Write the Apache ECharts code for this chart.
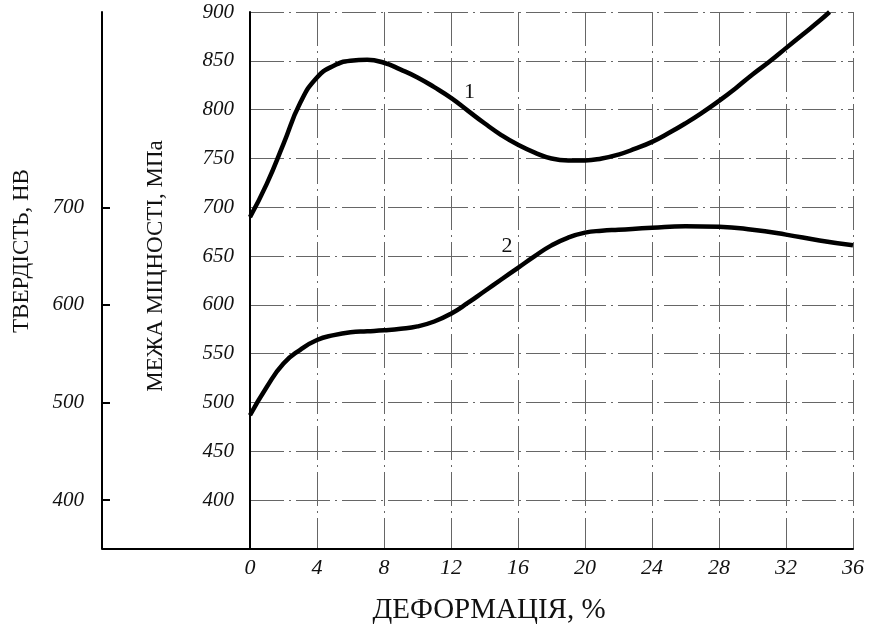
<!DOCTYPE html>
<html>
<head>
<meta charset="utf-8">
<script src="https://cdn.jsdelivr.net/npm/echarts@6/dist/echarts.min.js"></script>
<style>
  html, body { margin: 0; padding: 0; background: #fff; }
  #chart { width: 872px; height: 626px; }
</style>
</head>
<body>
<div id="chart"></div>
<script>
// дані (деформація, % -> межа міцності, МПа)
var deformX1 = [0, 1, 2, 3, 4, 5, 6, 7, 8, 9, 10, 11, 12, 13, 14, 15, 16, 17, 18, 19, 20, 21, 22, 23, 24, 25, 26, 27, 28, 29, 30, 31, 32, 33, 34, 34.6];
var strength1 = [690, 724, 765, 807, 833, 845, 850, 851, 848, 841, 833, 823, 812, 799, 786, 774, 764, 756, 750, 748, 748, 750, 754, 760, 767, 776, 786, 797, 809, 822, 836, 849, 863, 877, 891, 900];
var deformX2 = [0, 1, 2, 3, 4, 5, 6, 7, 8, 9, 10, 11, 12, 13, 14, 15, 16, 17, 18, 19, 20, 21, 22, 24, 26, 28, 30, 32, 34, 36];
var strength2 = [487, 516, 540, 554, 564, 569, 572, 573, 574, 575.5, 578, 583, 591, 602, 614, 626, 638, 650, 661, 669, 674, 676, 677, 679, 680.5, 680, 677, 672, 666, 661];
var hardnessTicks = [400, 500, 600, 700];
var curveLabels = [{ name: '1', x: 13.1, y: 818 }, { name: '2', x: 15.35, y: 660 }];

function pairs(xs, ys) {
    return xs.map(function (x, i) { return [x, ys[i]]; });
}

var serif = 'Liberation Serif';
var gridLine = { show: true, lineStyle: { color: '#666', width: 1, type: [34, 5, 2, 5] } };

function curveMark(lbl) {
    return {
        symbol: 'circle',
        symbolSize: 1,
        itemStyle: { color: 'rgba(0,0,0,0)' },
        label: { show: true, position: 'inside', formatter: '{b}', fontFamily: serif, fontSize: 22, color: '#111' },
        data: [{ name: lbl.name, coord: [lbl.x, lbl.y] }]
    };
}

var myChart = echarts.init(document.getElementById('chart'));
myChart.setOption({
    backgroundColor: '#fff',
    animation: false,
    grid: { left: 250, right: 19, top: 12, bottom: 77, containLabel: false },
    xAxis: {
        type: 'value',
        min: 0,
        max: 36,
        interval: 4,
        axisLine: { show: true, lineStyle: { color: '#000', width: 2 } },
        axisTick: { show: false },
        axisLabel: { fontFamily: serif, fontStyle: 'italic', fontSize: 22, color: '#111', margin: 8 },
        splitLine: gridLine
    },
    yAxis: [{
        type: 'value',
        position: 'left',
        min: 350,
        max: 900,
        interval: 50,
        axisLine: { show: true, lineStyle: { color: '#000', width: 2 } },
        axisTick: { show: false },
        axisLabel: {
            fontFamily: serif, fontStyle: 'italic', fontSize: 21, color: '#111', margin: 16,
            formatter: function (v) { return v === 350 ? '' : v; }
        },
        splitLine: gridLine
    }, {
        type: 'value',
        position: 'left',
        offset: 148,
        min: 350,
        max: 900,
        interval: 50,
        axisLine: { show: true, lineStyle: { color: '#000', width: 2 } },
        axisTick: { show: true, inside: true, length: 8, customValues: hardnessTicks, lineStyle: { color: '#000', width: 2 } },
        axisLabel: {
            fontFamily: serif, fontStyle: 'italic', fontSize: 21, color: '#111', margin: 18,
            customValues: hardnessTicks
        },
        splitLine: { show: false }
    }],
    series: [{
        name: '1',
        type: 'line',
        yAxisIndex: 0,
        smooth: 0.5,
        showSymbol: false,
        data: pairs(deformX1, strength1),
        lineStyle: { color: '#000', width: 4.5 },
        markPoint: curveMark(curveLabels[0])
    }, {
        name: '2',
        type: 'line',
        yAxisIndex: 0,
        smooth: 0.5,
        showSymbol: false,
        data: pairs(deformX2, strength2),
        lineStyle: { color: '#000', width: 4.5 },
        markPoint: curveMark(curveLabels[1])
    }],
    graphic: [{
        type: 'line',
        shape: { x1: 102, y1: 549, x2: 251, y2: 549 },
        style: { stroke: '#000', lineWidth: 2 }
    }, {
        type: 'text',
        x: 489,
        y: 610,
        style: { text: 'ДЕФОРМАЦІЯ, %', font: '29px "Liberation Serif"', fill: '#111', align: 'center', verticalAlign: 'middle' }
    }, {
        type: 'text',
        x: 22,
        y: 251,
        rotation: Math.PI / 2,
        style: { text: 'ТВЕРДІСТЬ, НВ', font: '23px "Liberation Serif"', fill: '#111', align: 'center', verticalAlign: 'middle' }
    }, {
        type: 'text',
        x: 156,
        y: 266,
        rotation: Math.PI / 2,
        style: { text: 'МЕЖА МІЦНОСТІ, МПа', font: '23px "Liberation Serif"', fill: '#111', align: 'center', verticalAlign: 'middle' }
    }]
});
</script>
</body>
</html>
